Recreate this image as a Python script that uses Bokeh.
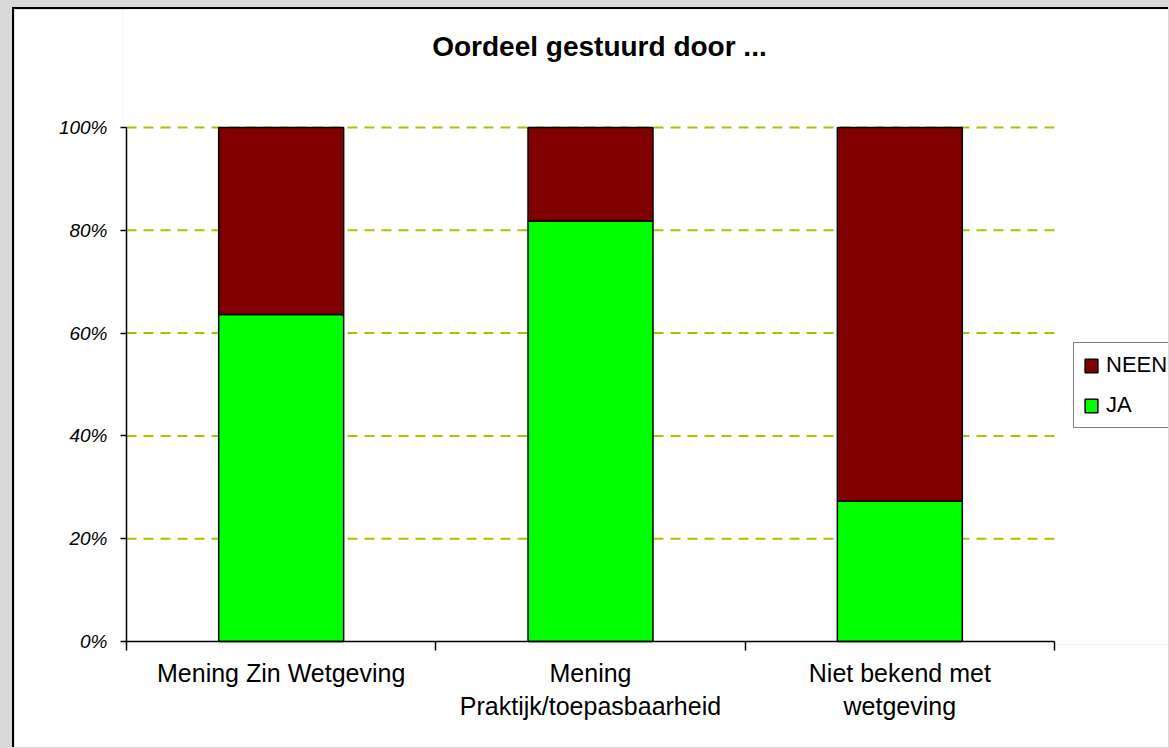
from bokeh.plotting import figure
from bokeh.models import (Range1d, FixedTicker, PrintfTickFormatter, Legend,
                          LegendItem, Label, ColumnDataSource)
from bokeh.embed import file_html
from bokeh.resources import INLINE

# ---- data ----
categories = ["Mening Zin Wetgeving",
              "Mening\nPraktijk/toepasbaarheid",
              "Niet bekend met\nwetgeving"]
ja = [63.6, 81.8, 27.3]
neen = [36.4, 18.2, 72.7]
series_names = ["JA", "NEEN"]
y_ticks = [0, 20, 40, 60, 80, 100]
title_text = "Oordeel gestuurd door ..."

FONT = "Liberation Sans"
ncat = len(categories)
x_centers = [i + 0.5 for i in range(ncat)]
x_bounds = [i for i in range(ncat + 1)]

# ---- layout (pixels) ----
PX_X = 928 / ncat          # pixels per category
PX_Y = 514 / 100.0         # pixels per percent
PAD = 3                    # frame padding so axis lines are not clipped
FRAME_W = 1045
FRAME_H = 635

p = figure(frame_width=FRAME_W, frame_height=FRAME_H,
           min_border_left=109, min_border_right=0,
           min_border_top=0, min_border_bottom=103,
           x_range=Range1d(-PAD / PX_X, (FRAME_W - PAD) / PX_X),
           y_range=Range1d(-PAD / PX_Y, (FRAME_H - PAD) / PX_Y),
           output_backend="svg", toolbar_location=None)
p.background_fill_color = "white"
p.background_fill_alpha = 1
p.border_fill_color = "white"
p.outline_line_color = None
p.styles = {"border-left": "2px solid black", "border-top": "2px solid black",
            "margin-left": "12px", "margin-top": "7px"}

# grid lines (limited to the category area)
p.xgrid.visible = False
p.ygrid.visible = False
gl = [t for t in y_ticks if t > 0]
p.segment(x0=[x_bounds[0]] * len(gl), x1=[x_bounds[-1]] * len(gl), y0=gl, y1=gl,
          line_color="#99cc00", line_width=2, line_dash="10 7")

src = ColumnDataSource(dict(x=x_centers, JA=ja, NEEN=neen))
rs = p.vbar_stack(series_names, x="x", width=0.404, source=src,
                  fill_color=["#00ff00", "#800000"], line_color="black",
                  line_width=1.5)

# axis lines
p.segment(x0=[x_bounds[0], x_bounds[0]], x1=[x_bounds[-1], x_bounds[0]],
          y0=[y_ticks[0], y_ticks[0]], y1=[y_ticks[0], y_ticks[-1]],
          line_color="black", line_width=1.5)

# y axis
p.yaxis.axis_line_color = None
p.yaxis.ticker = FixedTicker(ticks=y_ticks)
p.yaxis.formatter = PrintfTickFormatter(format="%d%%")
p.yaxis.major_label_text_font = FONT
p.yaxis.major_label_text_font_style = "italic"
p.yaxis.major_label_text_font_size = "19px"
p.yaxis.major_label_text_color = "black"
p.yaxis.major_tick_out = 3
p.yaxis.major_tick_in = 3
p.yaxis.minor_tick_out = 0
p.yaxis.minor_tick_in = 0
p.yaxis.major_tick_line_width = 1.5
p.yaxis.major_label_standoff = 13

# x axis
p.xaxis.axis_line_color = None
p.xaxis.ticker = FixedTicker(ticks=x_centers, minor_ticks=x_bounds)
p.xaxis.major_label_overrides = {xc: c for xc, c in zip(x_centers, categories)}
p.xaxis.major_label_text_font = FONT
p.xaxis.major_label_text_font_size = "25px"
p.xaxis.major_label_text_color = "black"
p.xaxis.major_label_text_line_height = 1.2
p.xaxis.major_tick_out = 0
p.xaxis.major_tick_in = 0
p.xaxis.minor_tick_out = 6
p.xaxis.minor_tick_in = 3
p.xaxis.minor_tick_line_color = "black"
p.xaxis.minor_tick_line_width = 1.5
p.xaxis.major_label_standoff = 8

# title
p.add_layout(Label(x=1.529, y=115.75, text=title_text, text_align="center",
                   text_baseline="alphabetic", text_font=FONT,
                   text_font_style="bold", text_font_size="28px",
                   text_color="black"))

# legend
legend = Legend(items=[LegendItem(label=series_names[1], renderers=[rs[1]]),
                       LegendItem(label=series_names[0], renderers=[rs[0]])],
                location=(950, 216))
legend.label_text_font = FONT
legend.label_text_font_size = "22px"
legend.label_text_color = "black"
legend.glyph_width = 16
legend.glyph_height = 17
legend.label_height = 26
legend.label_standoff = 7
legend.padding = 9
legend.spacing = 14
legend.margin = 0
legend.border_line_color = "black"
legend.border_line_width = 1.5
legend.background_fill_color = "white"
legend.background_fill_alpha = 1
p.add_layout(legend)

html = file_html(p, INLINE, title="Oordeel gestuurd door")
html = html.replace("</head>",
                    "<style>html, body { background: #d9d9d9 !important; }</style></head>", 1)
open("out.html", "w").write(html)
